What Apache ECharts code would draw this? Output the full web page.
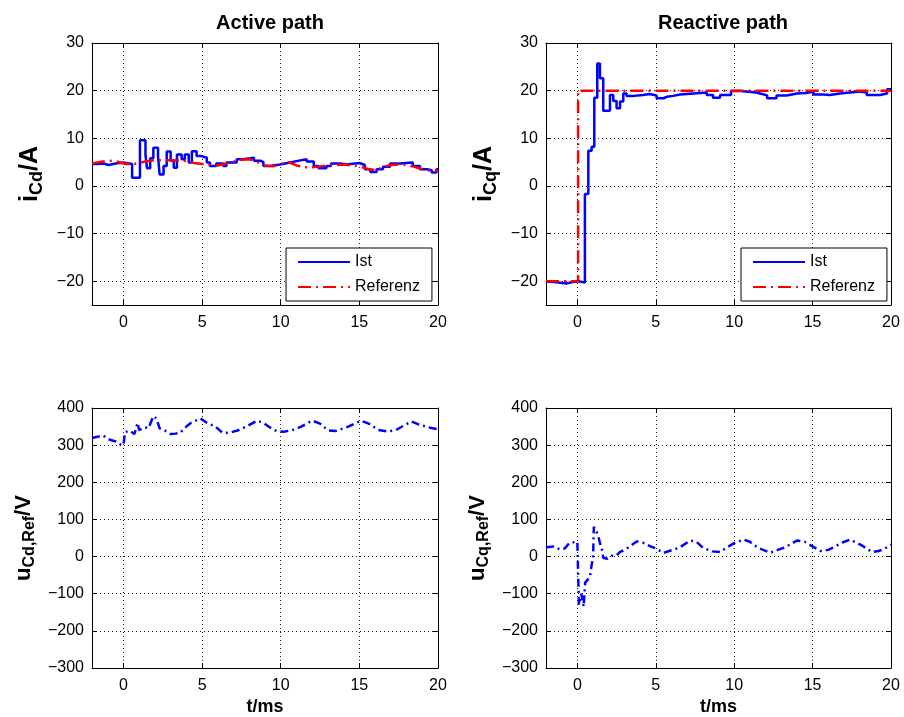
<!DOCTYPE html>
<html><head><meta charset="utf-8">
<script src="https://cdn.jsdelivr.net/npm/echarts@6/dist/echarts.min.js"></script>
<style>html,body{margin:0;padding:0;background:#fff}#c{width:904px;height:717px}</style>
</head><body><div id="c"></div>
<script>
// ---- data ----
const timeTicks = [0, 5, 10, 15, 20];
const currentTicks = [-20, -10, 0, 10, 20, 30];
const voltageTicks = [-300, -200, -100, 0, 100, 200, 300, 400];
const panelTitles = ['Active path', 'Reactive path'];
const legendNames = ['Ist', 'Referenz'];

// Active path current i_Cd (Ist, stairs) [t/ms, A]
const activeIst = [[-2,4.6],[-1.7,4.7],[-1.25,4.4],[-0.95,4.7],[-0.5,4.9],[0,4.6],[0.55,1.7],[1.05,9.6],[1.4,6.5],[1.5,3.7],[1.7,5.8],[1.9,8.0],[2.2,6.1],[2.3,2.4],[2.55,4.2],[2.75,7.2],[3.0,5.3],[3.2,3.8],[3.4,6.6],[3.7,5.6],[3.9,6.6],[4.15,4.9],[4.35,7.3],[4.65,6.3],[4.9,5.9],[5.3,4.9],[5.5,4.2],[5.9,4.7],[6.35,4.2],[6.55,4.9],[7.2,5.6],[7.6,5.9],[8.3,5.3],[8.7,5.0],[8.9,4.2],[9.3,4.5],[9.95,4.9],[10.6,5.2],[11.0,5.6],[11.65,5.1],[12.1,4.2],[12.4,3.7],[12.9,4.2],[13.2,4.7],[13.8,4.5],[14.2,4.8],[15.0,4.4],[15.35,3.5],[15.7,2.9],[16.1,3.5],[16.5,4.0],[16.95,4.7],[17.6,4.9],[18.4,4.2],[18.85,3.5],[19.3,3.3],[19.6,2.8],[19.9,3.5],[20,3.5]];
// Active path reference
const activeRef = [[-2,4.7],[-1.5,5.0],[-1.0,5.3],[-0.5,5.2],[0,4.7],[0.5,4.5],[1.0,4.8],[1.5,5.2],[2.0,5.4],[3.0,5.4],[3.8,5.3],[4.5,4.8],[5.0,4.6],[5.5,4.4],[6.0,4.3],[6.5,4.7],[7.0,5.1],[7.5,5.5],[8.0,5.6],[8.5,5.0],[9.0,4.3],[9.5,4.1],[10.0,4.6],[10.5,5.0],[11.0,4.3],[11.5,3.9],[12.0,3.9],[12.5,4.1],[13.0,4.3],[13.5,4.4],[14.0,4.5],[14.5,4.3],[15.0,4.1],[15.5,3.6],[16.0,3.3],[16.5,3.9],[17.0,4.4],[17.5,4.5],[18.0,4.4],[18.5,4.0],[19.0,3.5],[19.5,3.2],[20,3.3]];
// Reactive path current i_Cq (Ist, stairs)
const reactiveIst = [[-2,-20.1],[-1.7,-20.3],[-1.2,-20.5],[-0.7,-20.2],[-0.3,-20.0],[0.1,-20.3],[0.48,-1.7],[0.7,7.4],[0.91,8.2],[1.08,18.5],[1.27,25.7],[1.44,22.6],[1.65,15.8],[2.08,19.1],[2.29,17.8],[2.5,16.3],[2.72,17.7],[2.93,19.4],[3.14,18.9],[3.6,19.1],[4.2,19.3],[4.6,19.0],[5.05,18.4],[5.5,18.7],[5.7,18.9],[6.1,19.2],[6.55,19.4],[7.4,19.6],[8.25,19.1],[8.65,18.5],[9.1,19.1],[9.8,19.9],[10.4,19.6],[11.4,19.4],[11.65,19.0],[12.1,18.4],[12.7,19.0],[13.35,19.4],[14.0,19.5],[14.6,19.8],[15.05,19.2],[15.7,19.1],[16.1,19.4],[16.75,19.8],[18.0,19.6],[18.45,19.1],[19.3,19.4],[19.75,20.3],[20,20.3]];
// Reactive path reference (step at t = 0)
const reactiveRef = [[-2,-20],[0.05,20],[20,20]];
// Voltage reference u_Cd,Ref [V]
const activeVoltage = [[-2,319],[-1.3,326],[-0.9,315],[-0.5,310],[-0.2,302],[0,300],[0.1,335],[0.4,339],[0.7,330],[0.9,360],[1.0,340],[1.3,348],[1.6,346],[1.9,378],[2.1,372],[2.3,345],[2.6,340],[3.0,330],[3.3,331],[3.6,333],[4.0,350],[4.3,360],[4.9,372],[5.4,357],[5.8,352],[6.3,333],[6.8,334],[7.3,340],[7.9,352],[8.5,366],[8.9,360],[9.4,345],[9.8,337],[10.2,336],[10.9,342],[11.3,350],[12.0,366],[12.5,358],[13.0,340],[13.5,338],[14.3,350],[15.1,366],[15.6,358],[16.2,341],[16.8,337],[17.3,340],[17.8,352],[18.3,364],[18.8,355],[19.5,347],[20,343]];
// Voltage reference u_Cq,Ref [V]
const reactiveVoltage = [[-2,25],[-1.5,27],[-1.1,19],[-0.8,22],[-0.5,37],[0,40],[0.05,45],[0.1,-130],[0.25,-100],[0.4,-135],[0.5,-70],[0.8,-55],[0.9,-25],[1.0,-5],[1.05,80],[1.3,60],[1.45,35],[1.55,24],[1.65,-3],[1.9,-6],[2.2,2],[2.5,3],[2.7,12],[3.1,20],[3.8,41],[4.2,37],[4.7,27],[5.0,22],[5.5,10],[6.0,17],[6.5,24],[7.2,43],[7.6,40],[8.0,24],[8.6,14],[9.1,12],[9.5,24],[10.0,36],[10.6,46],[11.0,40],[11.5,24],[12.3,10],[12.9,20],[13.2,24],[14.0,43],[14.5,40],[14.8,32],[15.5,15],[16.0,18],[16.3,24],[16.9,38],[17.4,46],[18.1,31],[18.8,12],[19.2,15],[19.5,19],[20,32]];

// ---- chart ----
const F = '"Liberation Sans", Arial, Helvetica, sans-serif';
const grids = [
  {left: 92, top: 43, width: 346, height: 262},
  {left: 546, top: 43, width: 345, height: 262},
  {left: 92, top: 408, width: 346, height: 264},
  {left: 546, top: 408, width: 345, height: 264}
];
const yRanges = [[-25, 30, currentTicks], [-25, 30, currentTicks], [-300, 400, voltageTicks], [-300, 400, voltageTicks]];
const yNames = ['{m|i}{s|Cd}{m|/A}', '{m|i}{s|Cq}{m|/A}', '{m|u}{s|Cd,Ref}{m|/V}', '{m|u}{s|Cq,Ref}{m|/V}'];
const yGaps = [46, 46, 54, 54];
const yFont = [[25, 18], [25, 18], [22, 16], [22, 16]];
const dotted = {color: '#222', type: [1, 3], width: 1};
const axLine = {show: true, onZero: false, lineStyle: {color: '#000', width: 1}};

const xAxis = [], yAxis = [];
for (let g = 0; g < 4; g++) {
  xAxis.push({
    gridIndex: g, type: 'value', min: -2, max: 20, position: 'bottom',
    axisLine: axLine,
    axisTick: {show: true, inside: true, length: 5, customValues: timeTicks, lineStyle: {color: '#000'}},
    axisLabel: {show: true, customValues: timeTicks, color: '#000', fontSize: 16, fontFamily: F, margin: 10},
    splitLine: {show: true, lineStyle: dotted},
    name: g >= 2 ? 't/ms' : '', nameLocation: 'middle', nameGap: 30,
    nameTextStyle: {color: '#000', fontSize: 18, fontWeight: 'bold', fontFamily: F}
  });
  const [mn, mx, tk] = yRanges[g];
  const [fm, fs] = yFont[g];
  yAxis.push({
    gridIndex: g, type: 'value', min: mn, max: mx, position: 'left',
    axisLine: axLine,
    axisTick: {show: true, inside: true, length: 5, customValues: tk, lineStyle: {color: '#000'}},
    axisLabel: {show: true, customValues: tk, color: '#000', fontSize: 16, fontFamily: F, margin: 8,
      formatter: v => String(v).replace('-', '\u2212')},
    splitLine: {show: true, lineStyle: dotted},
    name: yNames[g], nameLocation: 'middle', nameRotate: 90, nameGap: yGaps[g],
    nameTextStyle: {color: '#000', fontWeight: 'bold', fontFamily: F,
      rich: {
        m: {fontSize: fm, fontWeight: 'bold', fontFamily: F, color: '#000', lineHeight: fm + 6},
        s: {fontSize: fs, fontWeight: 'bold', fontFamily: F, color: '#000', lineHeight: fs + 1, verticalAlign: 'bottom'}
      }}
  });
}
for (let g = 0; g < 4; g++) {
  const [mn, mx, tk] = yRanges[g];
  xAxis.push({
    gridIndex: g, type: 'value', min: -2, max: 20, position: 'top',
    axisLine: axLine,
    axisTick: {show: true, inside: true, length: 5, customValues: timeTicks, lineStyle: {color: '#000'}},
    axisLabel: {show: false}, splitLine: {show: false}
  });
  yAxis.push({
    gridIndex: g, type: 'value', min: mn, max: mx, position: 'right',
    axisLine: axLine,
    axisTick: {show: true, inside: true, length: 5, customValues: tk, lineStyle: {color: '#000'}},
    axisLabel: {show: false}, splitLine: {show: false}
  });
}

const blue = '#0000ff', red = '#ff0000';
function ser(name, data, idx, color, type, step) {
  return {
    name: name, type: 'line', data: data, xAxisIndex: idx, yAxisIndex: idx,
    step: step || false, symbol: 'none', showSymbol: false, animation: false,
    lineStyle: {color: color, width: 2.5, type: type}, itemStyle: {color: color},
    z: name === 'Referenz' ? 3 : 2
  };
}
const series = [
  ser(legendNames[0], activeIst, 0, blue, 'solid', 'end'),
  ser(legendNames[1], activeRef, 0, red, [13, 5, 2, 5]),
  ser(legendNames[0], reactiveIst, 1, blue, 'solid', 'end'),
  ser(legendNames[1], reactiveRef, 1, red, [13, 5, 2, 5], 'end'),
  ser('uCd', activeVoltage, 2, blue, [8, 4, 2, 4]),
  ser('uCq', reactiveVoltage, 3, blue, [8, 4, 2, 4])
];

function legendAt(left) {
  return {
    data: legendNames, left: left, top: 248, orient: 'vertical',
    padding: [6, 12, 6, 11], itemWidth: 52, itemHeight: 14, itemGap: 9,
    borderColor: '#000', borderWidth: 1, backgroundColor: '#fff', borderRadius: 0,
    itemStyle: {opacity: 0, borderWidth: 0},
    textStyle: {color: '#000', fontSize: 16, fontFamily: F},
    selectedMode: false
  };
}

const chart = echarts.init(document.getElementById('c'), null, {renderer: 'canvas'});
chart.setOption({
  backgroundColor: '#fff',
  animation: false,
  title: [
    {text: panelTitles[0], left: 265, top: 8, textAlign: 'center',
      textStyle: {fontSize: 20, fontWeight: 'bold', fontFamily: F, color: '#000'}},
    {text: panelTitles[1], left: 718, top: 8, textAlign: 'center',
      textStyle: {fontSize: 20, fontWeight: 'bold', fontFamily: F, color: '#000'}}
  ],
  legend: [legendAt(286), legendAt(741)],
  grid: grids,
  xAxis: xAxis,
  yAxis: yAxis,
  series: series
});
</script></body></html>
